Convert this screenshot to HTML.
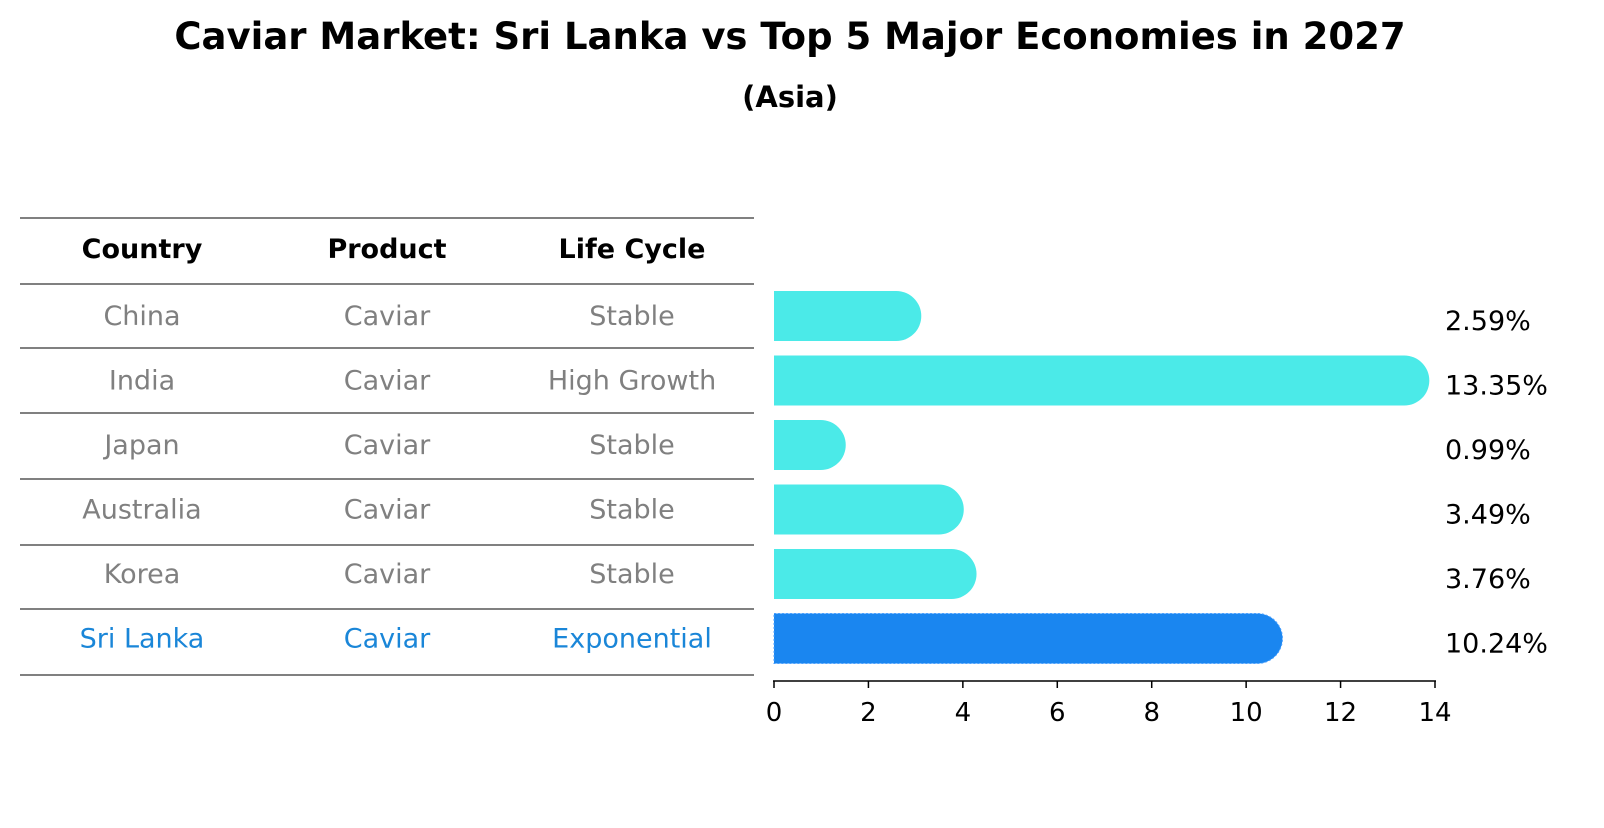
<!DOCTYPE html>
<html><head><meta charset="utf-8"><style>
body{margin:0;background:#fff;font-family:"Liberation Sans","DejaVu Sans",sans-serif}
svg text{font-family:"DejaVu Sans","Liberation Sans",sans-serif}
</style></head><body>
<svg id="c" width="1604" height="823" xmlns="http://www.w3.org/2000/svg">
<text x="790" y="49" text-anchor="middle" font-size="37" font-weight="bold">Caviar Market: Sri Lanka vs Top 5 Major Economies in 2027</text>
<text x="790" y="107" text-anchor="middle" font-size="29" font-weight="bold">(Asia)</text>
<g id="table"></g>
<g id="bars"></g>
</svg>
<script>
const countries=["China","India","Japan","Australia","Korea","Sri Lanka"];
const products=["Caviar","Caviar","Caviar","Caviar","Caviar","Caviar"];
const lifeCycles=["Stable","High Growth","Stable","Stable","Stable","Exponential"];
const values=[2.59,13.35,0.99,3.49,3.76,10.24];
const ticks=[0,2,4,6,8,10,12,14];
const NS="http://www.w3.org/2000/svg";
function mk(p,t,a){const e=document.createElementNS(NS,t);for(const k in a)e.setAttribute(k,a[k]);p.appendChild(e);return e;}
const tbl=document.getElementById('table'),bars=document.getElementById('bars');
const rowY=i=>316+i*64.5;
const x=v=>774+v*(1435-774)/14;
const lineYs=[218,284,348,413,479,545,609,675];
lineYs.forEach(y=>{const l=mk(tbl,'line',{x1:20,x2:754,y1:y,y2:y,stroke:'#000','stroke-width':1});

});
const cols=[142,387,632];
["Country","Product","Life Cycle"].forEach((h,j)=>{const t=mk(tbl,'text',{x:cols[j],y:258,'text-anchor':'middle','font-size':27,'font-weight':'bold'});t.textContent=h;

});
countries.forEach((c,i)=>{
 const col=i===5?'#1a86d8':'#808080';
 [c,products[i],lifeCycles[i]].forEach((s,j)=>{const t=mk(tbl,'text',{x:cols[j],y:rowY(i)+9,'text-anchor':'middle','font-size':27,fill:col});t.textContent=s;
 
 });
 const h=50,r=25,x0=x(0),x1=x(values[i]);
 const p=mk(bars,'path',{d:`M${x0},${rowY(i)-h/2}H${x1}A${r},${r} 0 0 1 ${x1},${rowY(i)+h/2}H${x0}Z`,fill:i===5?'#1a86f0':'#4beae8'});
 if(i===5){p.setAttribute('stroke','#4aa0ff');p.setAttribute('stroke-dasharray','2 2');}
 
 
 const t=mk(bars,'text',{x:1445,y:rowY(i)+14,'font-size':27});t.textContent=values[i].toFixed(2)+'%';
 
 
});
const ax=mk(bars,'line',{x1:773,x2:1436,y1:681,y2:681,stroke:'#000','stroke-width':1.5});


ticks.forEach(v=>{const l=mk(bars,'line',{x1:x(v),x2:x(v),y1:681,y2:688,stroke:'#000','stroke-width':1.5});


const t=mk(bars,'text',{x:x(v),y:721,'text-anchor':'middle','font-size':26});t.textContent=v;

});
</script>
</body></html>
